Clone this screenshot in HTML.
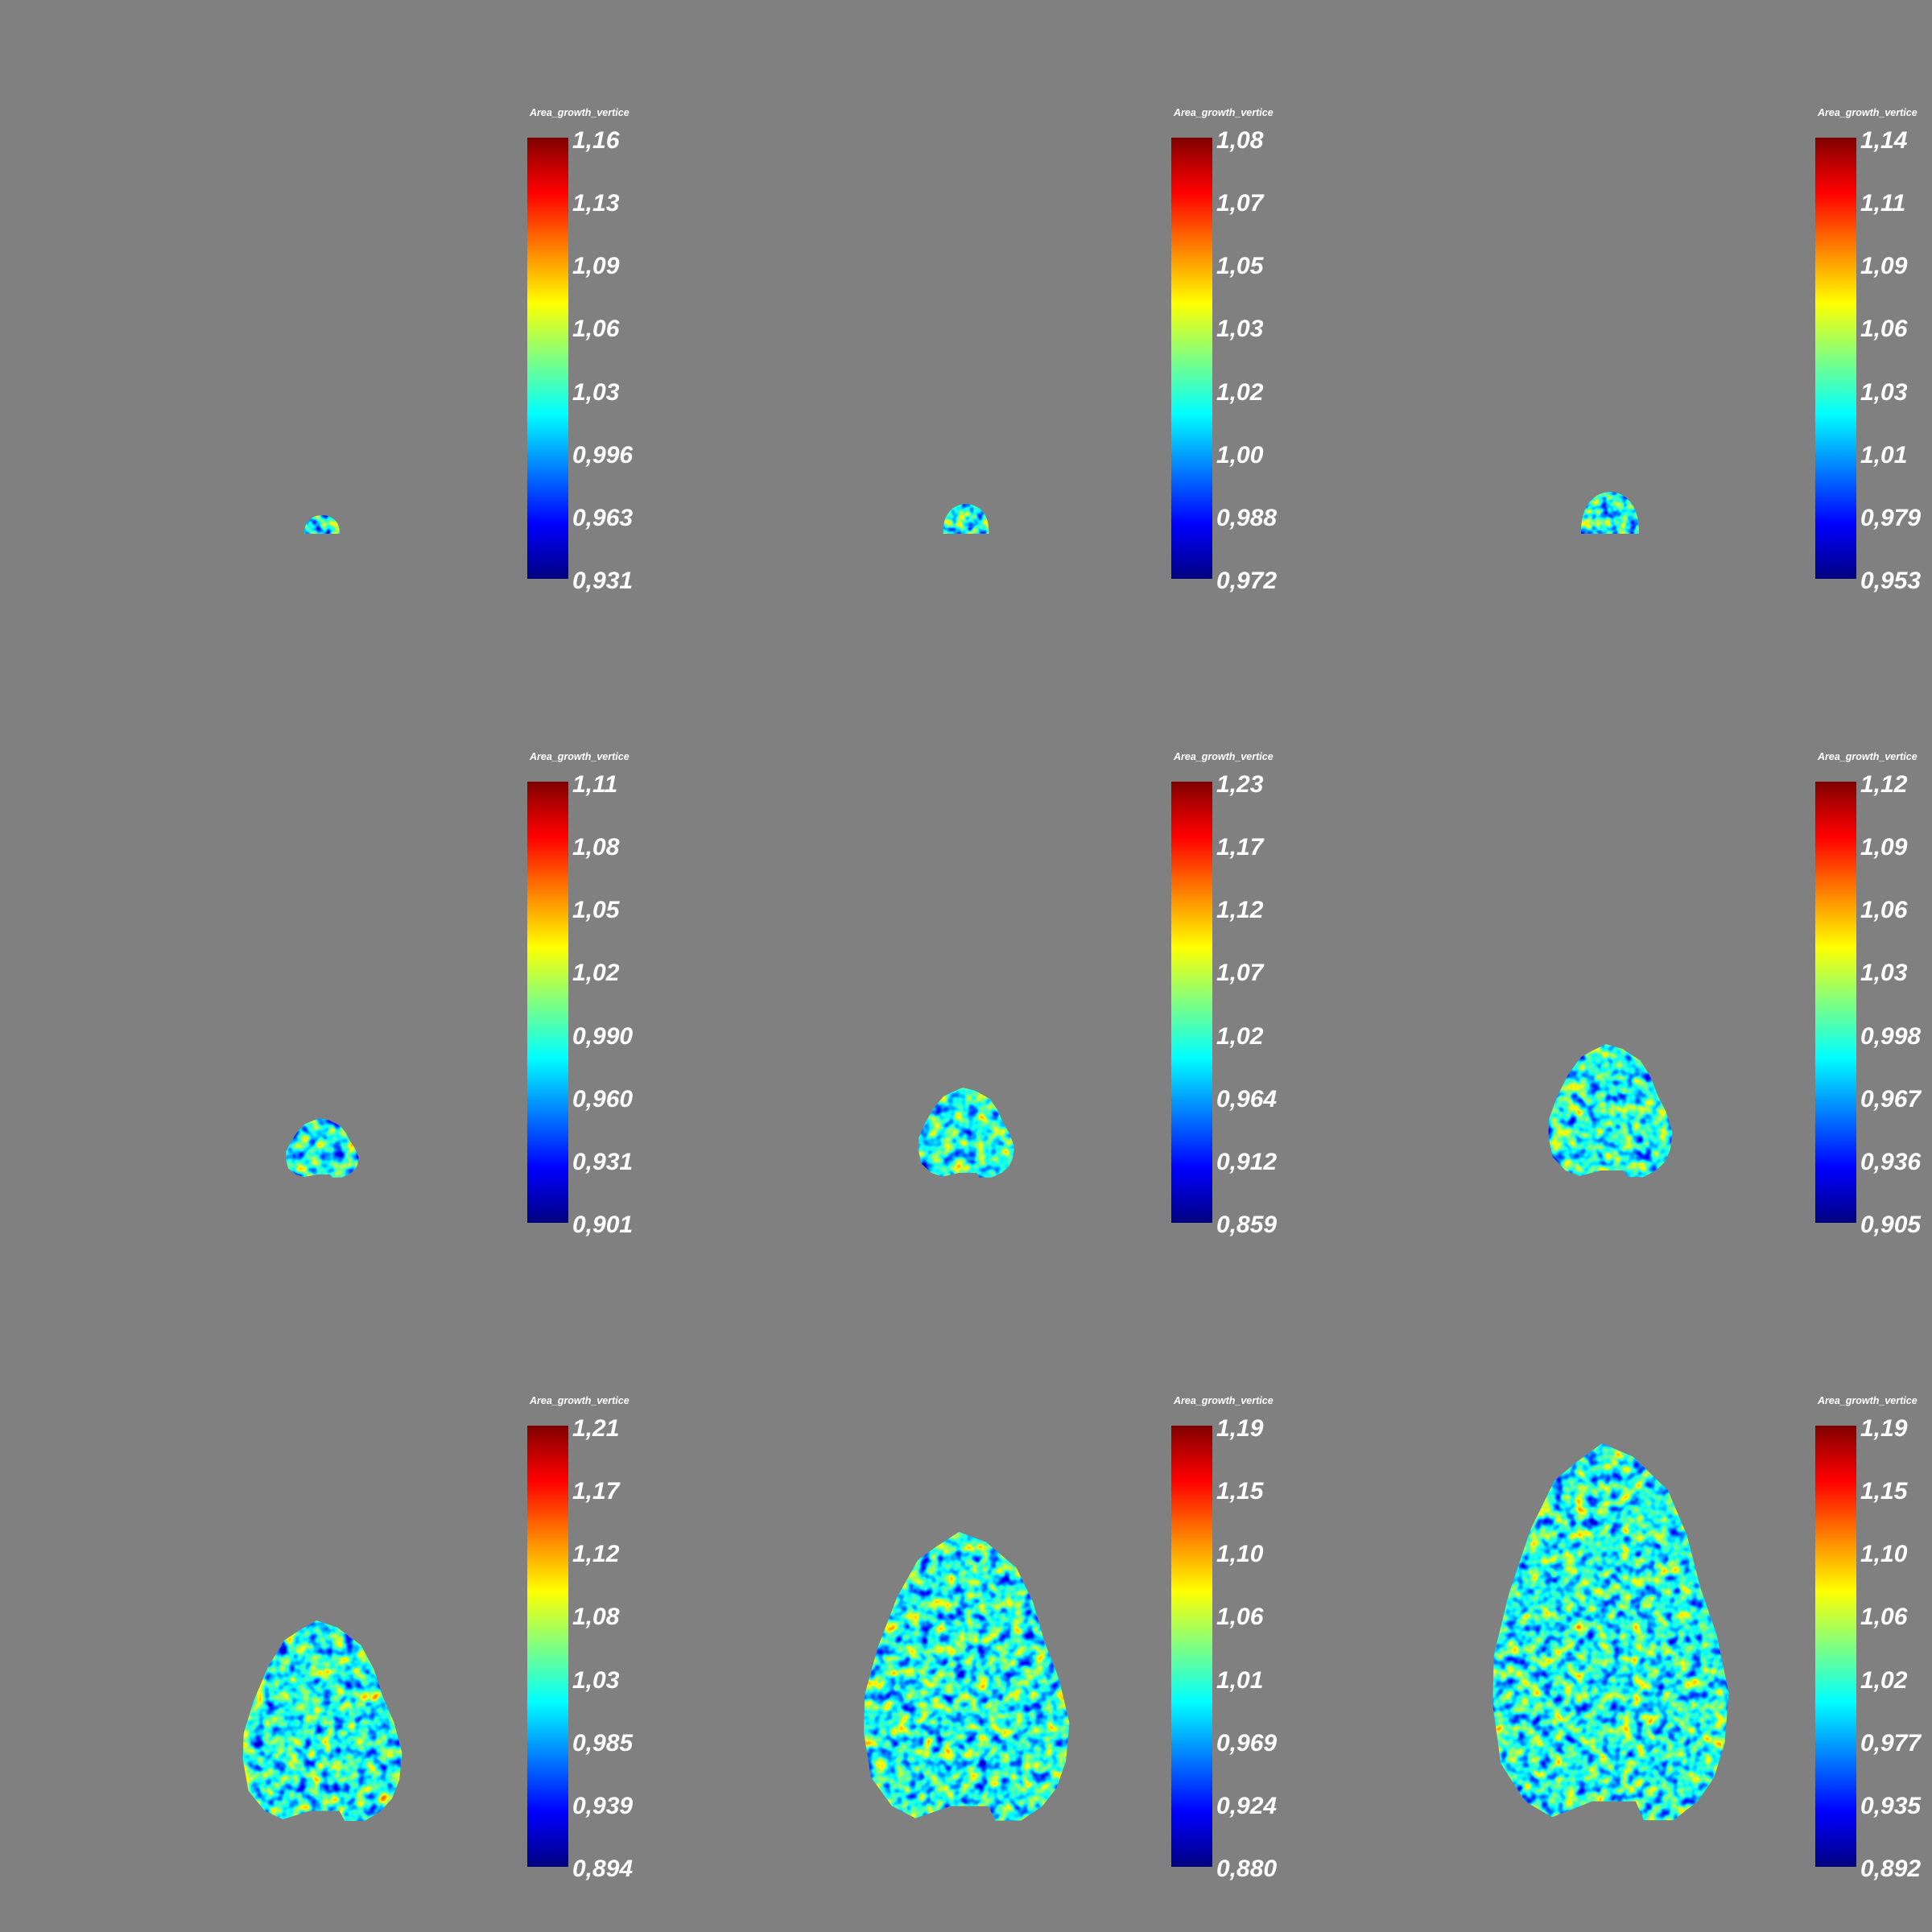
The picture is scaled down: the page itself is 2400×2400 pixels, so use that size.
<!DOCTYPE html>
<html><head><meta charset="utf-8">
<style>
html,body{margin:0;padding:0;background:#808080;}
#root{position:relative;width:2400px;height:2400px;background:#808080;overflow:hidden;font-family:"Liberation Sans",sans-serif;}
.cb-title{position:absolute;color:#fff;font-style:italic;font-weight:bold;font-size:12.5px;white-space:nowrap;}
.cb-bar{position:absolute;width:51px;height:548px;background:linear-gradient(to bottom,#800000 0%,#ff0000 12.5%,#ffff00 37.5%,#80ff80 50%,#00ffff 62.5%,#0000ff 87.5%,#000080 100%);}
.cb-label{position:absolute;color:#fff;font-style:italic;font-weight:bold;font-size:30px;line-height:34px;white-space:nowrap;}
svg{position:absolute;left:0;top:0;}
</style></head>
<body>
<div id="root">
<svg id="svg" width="2400" height="2400"></svg>
</div>
<script>
const tickLabels = [
 ["1,16","1,13","1,09","1,06","1,03","0,996","0,963","0,931"],
 ["1,08","1,07","1,05","1,03","1,02","1,00","0,988","0,972"],
 ["1,14","1,11","1,09","1,06","1,03","1,01","0,979","0,953"],
 ["1,11","1,08","1,05","1,02","0,990","0,960","0,931","0,901"],
 ["1,23","1,17","1,12","1,07","1,02","0,964","0,912","0,859"],
 ["1,12","1,09","1,06","1,03","0,998","0,967","0,936","0,905"],
 ["1,21","1,17","1,12","1,08","1,03","0,985","0,939","0,894"],
 ["1,19","1,15","1,10","1,06","1,01","0,969","0,924","0,880"],
 ["1,19","1,15","1,10","1,06","1,02","0,977","0,935","0,892"]
];
const shapeW = [44,57,72, 91,120,155, 199,257,295];
const shapeH = [23,37,52, 74,112,166, 250,360,470];

const NS="http://www.w3.org/2000/svg";
const root=document.getElementById('root');
const svg=document.getElementById('svg');
const outline=[[-0.034,0],[0.097,0.035],[0.244,0.124],[0.324,0.243],[0.381,0.382],[0.449,0.506],[0.5,0.66],[0.483,0.792],[0.4375,0.884],[0.369,0.946],[0.267,0.996],[0.142,0.996],[0.108,0.946],[-0.074,0.946],[-0.244,0.988],[-0.358,0.946],[-0.46,0.846],[-0.494,0.691],[-0.489,0.56],[-0.426,0.398],[-0.335,0.228],[-0.233,0.097],[-0.142,0.05]];
const dome=[];
for(let i=0;i<=20;i++){const a=Math.PI*i/20;dome.push([-0.5*Math.cos(a),1-Math.pow(Math.sin(a),0.8)]);}

function jet(x){const c=v=>Math.max(0,Math.min(1,v));return [c(1.5-Math.abs(4*x-3)),c(1.5-Math.abs(4*x-2)),c(1.5-Math.abs(4*x-1))];}
const N=31,r=[],g=[],b=[];
for(let i=0;i<N;i++){const t=i/(N-1);const j=jet(Math.max(0,Math.min(1,0.4+(t-0.5)*0.9)));r.push(j[0].toFixed(3));g.push(j[1].toFixed(3));b.push(j[2].toFixed(3));}

const defs=document.createElementNS(NS,'defs');
svg.appendChild(defs);
for(let p=0;p<9;p++){
  const f=document.createElementNS(NS,'filter');
  f.setAttribute('id','nz'+p);f.setAttribute('x','0');f.setAttribute('y','0');f.setAttribute('width','1');f.setAttribute('height','1');
  f.setAttribute('color-interpolation-filters','sRGB');
  const freq=(p<3?0.09:0.07);
  f.innerHTML=`<feTurbulence type="fractalNoise" baseFrequency="${freq}" numOctaves="2" seed="${p*7+3}"/>`+
   `<feColorMatrix type="matrix" values="1 0 0 0 0  1 0 0 0 0  1 0 0 0 0  0 0 0 0 1"/>`+
   `<feComponentTransfer><feFuncR type="table" tableValues="${r.join(' ')}"/><feFuncG type="table" tableValues="${g.join(' ')}"/><feFuncB type="table" tableValues="${b.join(' ')}"/><feFuncA type="table" tableValues="1 1"/></feComponentTransfer>`;
  defs.appendChild(f);
}

for(let p=0;p<9;p++){
  const col=p%3,row=Math.floor(p/3);
  const ox=col*800,oy=row*800;
  const t=document.createElement('div');
  t.className='cb-title';
  
  
  t.style.left=(ox+658)+'px';t.style.top=(oy+133)+'px';
  t.textContent='Area_growth_vertice';
  root.appendChild(t);
  const bar=document.createElement('div');
  bar.className='cb-bar';
  
  
  bar.style.left=(ox+655)+'px';bar.style.top=(oy+171)+'px';
  root.appendChild(bar);
  const labs=tickLabels[p];
  labs.forEach((s,i)=>{
    const l=document.createElement('div');
    l.className='cb-label';
    
    
    const cy=oy+174+i*(547/(labs.length-1));
    l.style.left=(ox+711)+'px';l.style.top=(cy-16)+'px';
    l.textContent=s;
    root.appendChild(l);
  });
  const w=shapeW[p],h=shapeH[p];
  const cx=ox+400,by=oy+663;
  const pts=(row===0?dome:outline).map(q=>[(cx+q[0]*w).toFixed(1),(by-h+q[1]*h).toFixed(1)]);
  const cp=document.createElementNS(NS,'clipPath');
  cp.setAttribute('id','cp'+p);
  const poly=document.createElementNS(NS,'polygon');
  poly.setAttribute('points',pts.map(a=>a.join(',')).join(' '));
  cp.appendChild(poly);defs.appendChild(cp);
  const rect=document.createElementNS(NS,'rect');
  
  
  rect.setAttribute('x',cx-w/2-5);rect.setAttribute('y',by-h-5);
  rect.setAttribute('width',w+10);rect.setAttribute('height',h+10);
  rect.setAttribute('fill','#40ffc0');
  rect.setAttribute('filter','url(#nz'+p+')');
  rect.setAttribute('clip-path','url(#cp'+p+')');
  svg.appendChild(rect);
}
</script>
</body></html>
